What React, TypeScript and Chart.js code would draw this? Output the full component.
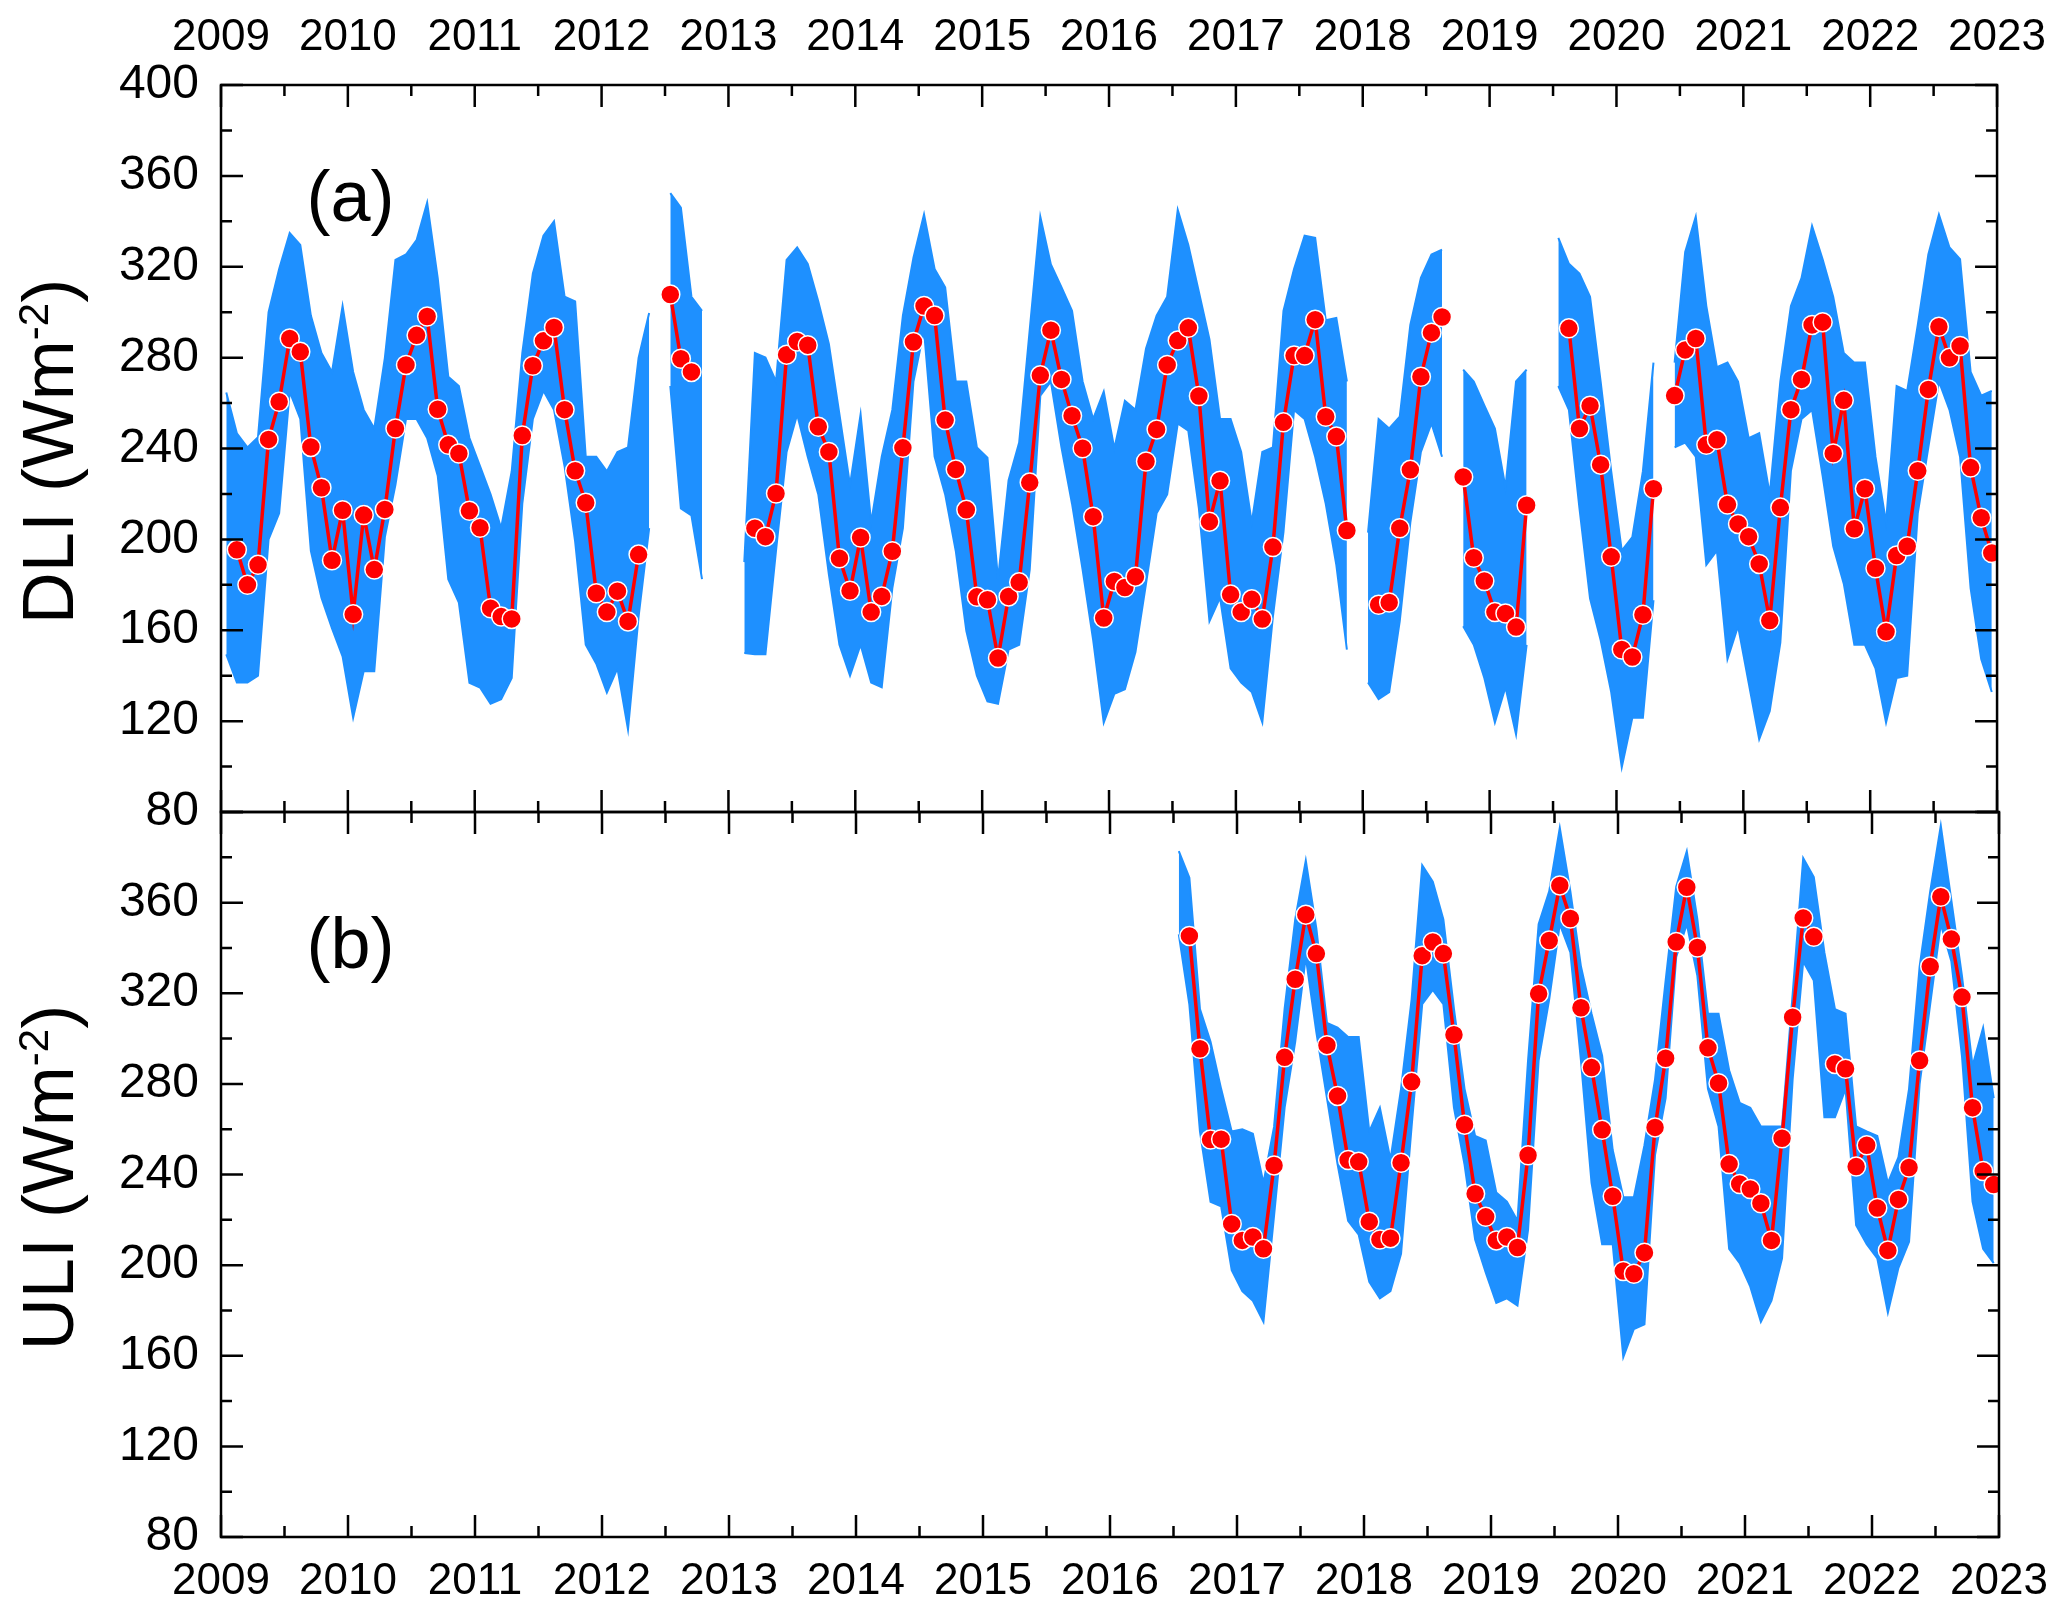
import React, { useEffect, useRef } from 'react';
import { Chart, registerables } from 'chart.js';

Chart.register(...registerables);

const FONT = '"Liberation Sans", Arial, Helvetica, sans-serif';
const BLUE = '#1e90ff';
const RED = '#ff0000';

const START_YEAR = 2009;
const END_YEAR = 2023;
const Y_MIN = 80;
const Y_MAX = 400;

// monthly values, one row per year (Jan..Dec), null = no data
const dliMean = [
  null, 195.4, 180, 188.8, 244, 260.6, 288.4, 282.6, 240.7, 222.7, 190.8, 212.8,
  167, 210.7, 186.7, 213.2, 248.8, 276.8, 289.8, 298.1, 257.3, 241.6, 237.8, 212.6,
  205.1, 169.7, 166, 165, 245.7, 276.4, 287.4, 293.3, 257.1, 230.2, 216.1, 176.3,
  168, 177.2, 163.9, 193.3, null, null, 307.8, 279.5, 273.7, null, null, null,
  null, null, 204.9, 201.2, 220.2, 281.3, 287.1, 285.5, 249.6, 238.5, 191.7, 177.4,
  200.8, 168, 174.9, 194.8, 240.3, 286.9, 302.7, 298.5, 252.5, 230.8, 213, 174.7,
  173.4, 147.8, 174.9, 181.1, 225, 272.2, 292.1, 270.4, 254.4, 240.1, 210, 165.4,
  181.5, 178.8, 183.6, 234.3, 248.4, 276.8, 287.5, 293.1, 263.1, 207.8, 225.8, 175.7,
  168, 173.6, 164.9, 196.6, 251.5, 280.9, 280.9, 296.7, 254, 245.3, 203.9, null,
  null, 171.2, 172.2, 204.9, 230.6, 271.6, 291, 297.9, null, 227.5, 191.9, 181.7,
  168, 167.4, 161.4, 215, null, null, null, 292.9, 248.8, 258.8, 232.9, 192.3,
  151.5, 148.2, 166.8, 222.3, null, 263.3, 283.4, 288.4, 241.6, 243.8, 215.3, 206.8,
  201.2, 189.2, 164.3, 214, 257.1, 270.4, 294.4, 295.6, 237.8, 261.2, 204.7, 222.3,
  187.3, 159.3, 192.9, 197, 230.2, 266, 293.6, 279.9, 285.1, 231.6, 209.5, 194,
];

const dliHigh = [
  264.6, 246.7, 240.5, 245, 300, 319, 334.8, 329.6, 298.5, 282, 273.7, 302.7,
  273.7, 257, 248.8, 279.9, 323, 325.4, 331.7, 348.2, 315, 271.6, 267.5, 244.6,
  232.2, 219.8, 205, 230, 282, 317, 333.7, 340, 306.8, 304.7, 236.4, 236.4,
  230, 238.4, 240.5, 279.9, 299.6, null, 352.4, 346, 306.8, 300.6, null, null,
  null, 190, 282, 280, 269.5, 323, 328.5, 321.3, 304.7, 286, 255, 224,
  255, 207.4, 236.4, 257, 298.5, 324, 343, 319, 311, 269.5, 269.5, 240.5,
  236, 182.5, 226, 242.6, 292.3, 342, 321, 311, 300.6, 269.5, 253, 265,
  240, 261, 257, 284, 298.5, 306.8, 345, 329.6, 308.9, 288, 253, 253,
  238.5, 207.4, 238.5, 240.5, 300.6, 319, 333.7, 332.7, 296.5, 297.5, 269.5, null,
  203, 253, 248.8, 254, 294.4, 315.1, 325.4, 327.5, null, 274.7, 269.5, 259,
  248.8, 222.9, 269.5, 274.7, null, null, 332.7, 321.3, 317, 306.8, 269.5, 230,
  195, 201, 230, 277.8, null, 277.8, 326.5, 342, 302.7, 275.8, 277.8, 269.5,
  244.6, 246.7, 219.8, 269.5, 302.7, 315, 337.9, 323.3, 306.8, 282, 277.8, 277.8,
  236.4, 207.4, 267.5, 265.4, 294.4, 325.4, 343, 328.5, 323.3, 273.7, 263.3, 265.4,
];

const dliLow = [
  149.4, 137, 137, 140, 200, 211.5, 265, 253, 195, 174.3, 160.8, 148.5,
  121.5, 142, 142, 201, 224, 253, 253, 244.6, 228, 182.5, 172.2, 136.9,
  134.8, 127.6, 129.6, 139, 215.7, 253, 265.4, 257, 232.2, 199, 153.6, 145.3,
  132.6, 143.2, 116.3, 166, 205, null, 267.5, 213.6, 210.5, 182.5, null, null,
  null, 150, 149.4, 149.4, 195, 238.5, 255, 236.4, 219.8, 184.6, 153.6, 140,
  153.6, 137, 134.9, 178.4, 205, 269.5, 292, 236.4, 219.8, 195, 159.8, 140,
  128.7, 127.6, 151.5, 153.6, 186.7, 263.3, 269.5, 240.5, 215.7, 186.7, 155.7, 119.4,
  132, 134, 150.4, 180.5, 211.5, 219.8, 251, 247.8, 213.6, 164, 174.4, 143.2,
  137, 132.8, 119.4, 166, 203.2, 257, 253, 236.4, 215.7, 188.8, 151.5, null,
  137, 129.7, 132.8, 164, 207.4, 238.5, 251, 236.4, null, 161.8, 153.6, 139,
  119.4, 134.9, 114.2, 153.6, null, null, 267.5, 257, 213.6, 174, 155.7, 132.8,
  99.7, 121.5, 121.5, 173.2, null, 240.5, 242.6, 236.4, 188.8, 195, 147.3, 161.8,
  137, 112, 124.5, 154.6, 230.2, 253, 257, 228, 197, 180.5, 153.6, 153.6,
  143.2, 119.4, 139, 140, 211.5, 240.5, 269.5, 257, 236.4, 178.4, 147.3, 132.8,
];

const ULI_START_YEAR = 2016;

const uliMean = [
  null, null, null, null, null, null, null, 345.3, 295.5, 255.4, 255.6, 218.2,
  210.9, 212.4, 207.2, 244, 291.7, 326.2, 354.7, 337.5, 297.1, 274.7, 246.4, 245.6,
  219.2, 211.3, 211.9, 245.2, 280.9, 336.6, 342.6, 337.5, 301.7, 262, 231.5, 221.3,
  210.9, 212.4, 207.8, 248.5, 319.8, 343.3, 367.6, 353, 313.6, 287.2, 259.7, 230.4,
  197.4, 196.2, 205.5, 260.8, 291.3, 342.6, 366.8, 340.2, 295.9, 280.3, 244.6, 235.8,
  233.6, 227.3, 210.9, 256, 309.4, 353.2, 344.9, null, 288.8, 286.7, 243.5, 252.9,
  225.2, 206.5, 229, 243.1, 290.3, 331.8, 362.6, 343.9, 318.3, 269.5, 241.5, 235.6,
];

const uliHigh = [
  null, null, null, null, null, null, 382.7, 371, 313, 298.6, 277.8, 259,
  260, 258, 236.3, 261, 313.2, 352.6, 378.6, 348.5, 306.9, 304.8, 300.7, 300.7,
  259, 269.5, 246.6, 277.8, 317.3, 376.5, 369.2, 352.6, 313.1, 277.8, 257, 255,
  232, 228, 219.6, 290.3, 350.5, 365, 393, 365, 331.8, 311, 292.4, 250.8,
  230, 230, 252.9, 282, 325.6, 367, 382.7, 352.6, 311, 311, 286, 271.6,
  269.5, 261.2, 261.2, 261.2, 319.4, 379.6, 371.3, 338, 313, 311, 261.2, 259,
  257, 236.3, 247.7, 277.8, 331.8, 365, 394, 360.9, 327.7, 288, 304.8, 273.7,
];

const uliLow = [
  null, null, null, null, null, null, 346, 315, 259, 228, 226, 197.8,
  188.5, 184.3, 175, 221.7, 269.5, 298.6, 336, 302.7, 273.7, 244.6, 219.6, 213.4,
  192.6, 185.3, 188.5, 205, 261.2, 315.2, 321.5, 315.2, 269.5, 244.4, 211.3, 196.8,
  183.3, 185.3, 182.2, 215.5, 290.3, 317.3, 350.5, 338, 290.3, 236.3, 209.2, 209.2,
  159.4, 171.8, 173.9, 248.7, 273.7, 336, 350.5, 327.7, 277.8, 261.2, 207.2, 200.9,
  190.5, 175, 184.3, 203, 282, 334, 325.6, 265.3, 265.3, 277.8, 217.6, 209.2,
  203, 179.1, 198.8, 210.3, 279.9, 315.2, 350.5, 334, 292.4, 228, 207.2, 200.9,
];

const W = 2067;
const H = 1617;

// monthly value i of a series starting in January of firstYear sits mid-month
function toPoints(values: (number | null)[], firstYear: number) {
  return values.map((v, i) => ({ x: firstYear + (i + 0.5) / 12, y: v }));
}

function overlayPlugin(title: string, letter: string, letterX: number, letterY: number) {
  return {
    id: 'overlay',
    afterDatasetsDraw(chart: any) {
      const { ctx, chartArea: a, scales } = chart;
      const xs = scales.x;
      const ys = scales.y;
      ctx.save();

      // frame + inward ticks on all four sides
      ctx.strokeStyle = '#000';
      ctx.lineWidth = 2.5;
      ctx.strokeRect(a.left, a.top, a.right - a.left, a.bottom - a.top);
      ctx.beginPath();
      for (let v = START_YEAR; v <= END_YEAR; v += 0.5) {
        const px = xs.getPixelForValue(v);
        const len = Number.isInteger(v) ? 22 : 11;
        ctx.moveTo(px, a.top);
        ctx.lineTo(px, a.top + len);
        ctx.moveTo(px, a.bottom);
        ctx.lineTo(px, a.bottom - len);
      }
      for (let v = Y_MIN; v <= Y_MAX; v += 20) {
        const py = ys.getPixelForValue(v);
        const len = v % 40 === 0 ? 22 : 11;
        ctx.moveTo(a.left, py);
        ctx.lineTo(a.left + len, py);
        ctx.moveTo(a.right, py);
        ctx.lineTo(a.right - len, py);
      }
      ctx.stroke();

      // panel letter
      ctx.fillStyle = '#000';
      ctx.font = `72px ${FONT}`;
      ctx.textAlign = 'center';
      ctx.textBaseline = 'middle';
      ctx.fillText(letter, xs.getPixelForValue(letterX), ys.getPixelForValue(letterY));

      // rotated axis title with superscript
      const main = `${title} (Wm`;
      const sup = '-2';
      ctx.font = `72px ${FONT}`;
      const w1 = ctx.measureText(main).width;
      const w3 = ctx.measureText(')').width;
      ctx.font = `42px ${FONT}`;
      const w2 = ctx.measureText(sup).width;
      const total = w1 + w2 + w3;
      ctx.translate(73, (a.top + a.bottom) / 2 + 3);
      ctx.rotate(-Math.PI / 2);
      ctx.textAlign = 'left';
      ctx.textBaseline = 'alphabetic';
      let x = -total / 2;
      ctx.font = `72px ${FONT}`;
      ctx.fillText(main, x, 0);
      x += w1;
      ctx.font = `42px ${FONT}`;
      ctx.fillText(sup, x, -25);
      x += w2;
      ctx.font = `72px ${FONT}`;
      ctx.fillText(')', x, 0);
      ctx.restore();
    },
  };
}

interface PanelProps {
  mean: (number | null)[];
  high: (number | null)[];
  low: (number | null)[];
  firstYear: number;
  title: string;
  letter: string;
  letterY: number;
  xPosition: 'top' | 'bottom';
}

const Panel: React.FC<PanelProps> = ({ mean, high, low, firstYear, title, letter, letterY, xPosition }) => {
  const canvasRef = useRef<HTMLCanvasElement>(null);
  const chartRef = useRef<Chart | null>(null);

  useEffect(() => {
    if (!canvasRef.current) return;
    if (chartRef.current) chartRef.current.destroy();

    const isTop = xPosition === 'top';

    chartRef.current = new Chart(canvasRef.current, {
      type: 'line',
      data: {
        datasets: [
          {
            label: 'monthly',
            data: toPoints(mean, firstYear),
            borderColor: RED,
            borderWidth: 3.5,
            pointRadius: 9.5,
            pointBackgroundColor: RED,
            pointBorderColor: '#ffffff',
            pointBorderWidth: 1.5,
            spanGaps: false,
            order: 0,
          },
          {
            label: 'high',
            data: toPoints(high, firstYear),
            borderColor: BLUE,
            backgroundColor: BLUE,
            borderWidth: 2,
            pointRadius: 0,
            fill: '+1',
            spanGaps: false,
            order: 1,
          },
          {
            label: 'low',
            data: toPoints(low, firstYear),
            borderColor: BLUE,
            borderWidth: 2,
            pointRadius: 0,
            fill: false,
            spanGaps: false,
            order: 2,
          },
        ],
      },
      options: {
        animation: false,
        responsive: false,
        layout: {
          padding: isTop
            ? { top: 0, left: 0, right: 68, bottom: H - 812 }
            : { top: 812, left: 0, right: 68, bottom: 0 },
        },
        plugins: {
          legend: { display: false },
          tooltip: { enabled: false },
        },
        scales: {
          x: {
            type: 'linear',
            position: xPosition,
            min: START_YEAR,
            max: END_YEAR,
            grid: { display: false, drawTicks: false },
            border: { display: false },
            ticks: {
              stepSize: 1,
              autoSkip: false,
              maxRotation: 0,
              padding: isTop ? 21 : 18,
              color: '#000',
              font: { family: FONT, size: 44 },
              callback: (v: any) => String(v),
            },
            afterFit: (s: any) => {
              s.height = isTop ? 85 : 80;
            },
          },
          y: {
            type: 'linear',
            position: 'left',
            min: Y_MIN,
            max: Y_MAX,
            grid: { display: false, drawTicks: false },
            border: { display: false },
            ticks: {
              stepSize: 40,
              autoSkip: false,
              padding: 22,
              color: '#000',
              font: { family: FONT, size: 48 },
              callback: (v: any) => (!isTop && v === Y_MAX ? '' : String(v)),
            },
            afterFit: (s: any) => {
              s.width = 221;
            },
          },
        },
      },
      plugins: [overlayPlugin(title, letter, 2010.02, letterY)],
    } as any);

    return () => {
      if (chartRef.current) {
        chartRef.current.destroy();
        chartRef.current = null;
      }
    };
  }, [mean, high, low, firstYear, title, letter, letterY, xPosition]);

  return (
    <canvas
      ref={canvasRef}
      width={W}
      height={H}
      style={{ position: 'absolute', left: 0, top: 0, width: W, height: H }}
    />
  );
};

export default function App() {
  return (
    <div style={{ position: 'absolute', left: 0, top: 0, width: W, height: H, background: '#fff', overflow: 'hidden' }}>
      <Panel
        mean={uliMean}
        high={uliHigh}
        low={uliLow}
        firstYear={ULI_START_YEAR}
        title="ULI"
        letter="(b)"
        letterY={340}
        xPosition="bottom"
      />
      <Panel
        mean={dliMean}
        high={dliHigh}
        low={dliLow}
        firstYear={START_YEAR}
        title="DLI"
        letter="(a)"
        letterY={349}
        xPosition="top"
      />
    </div>
  );
}
